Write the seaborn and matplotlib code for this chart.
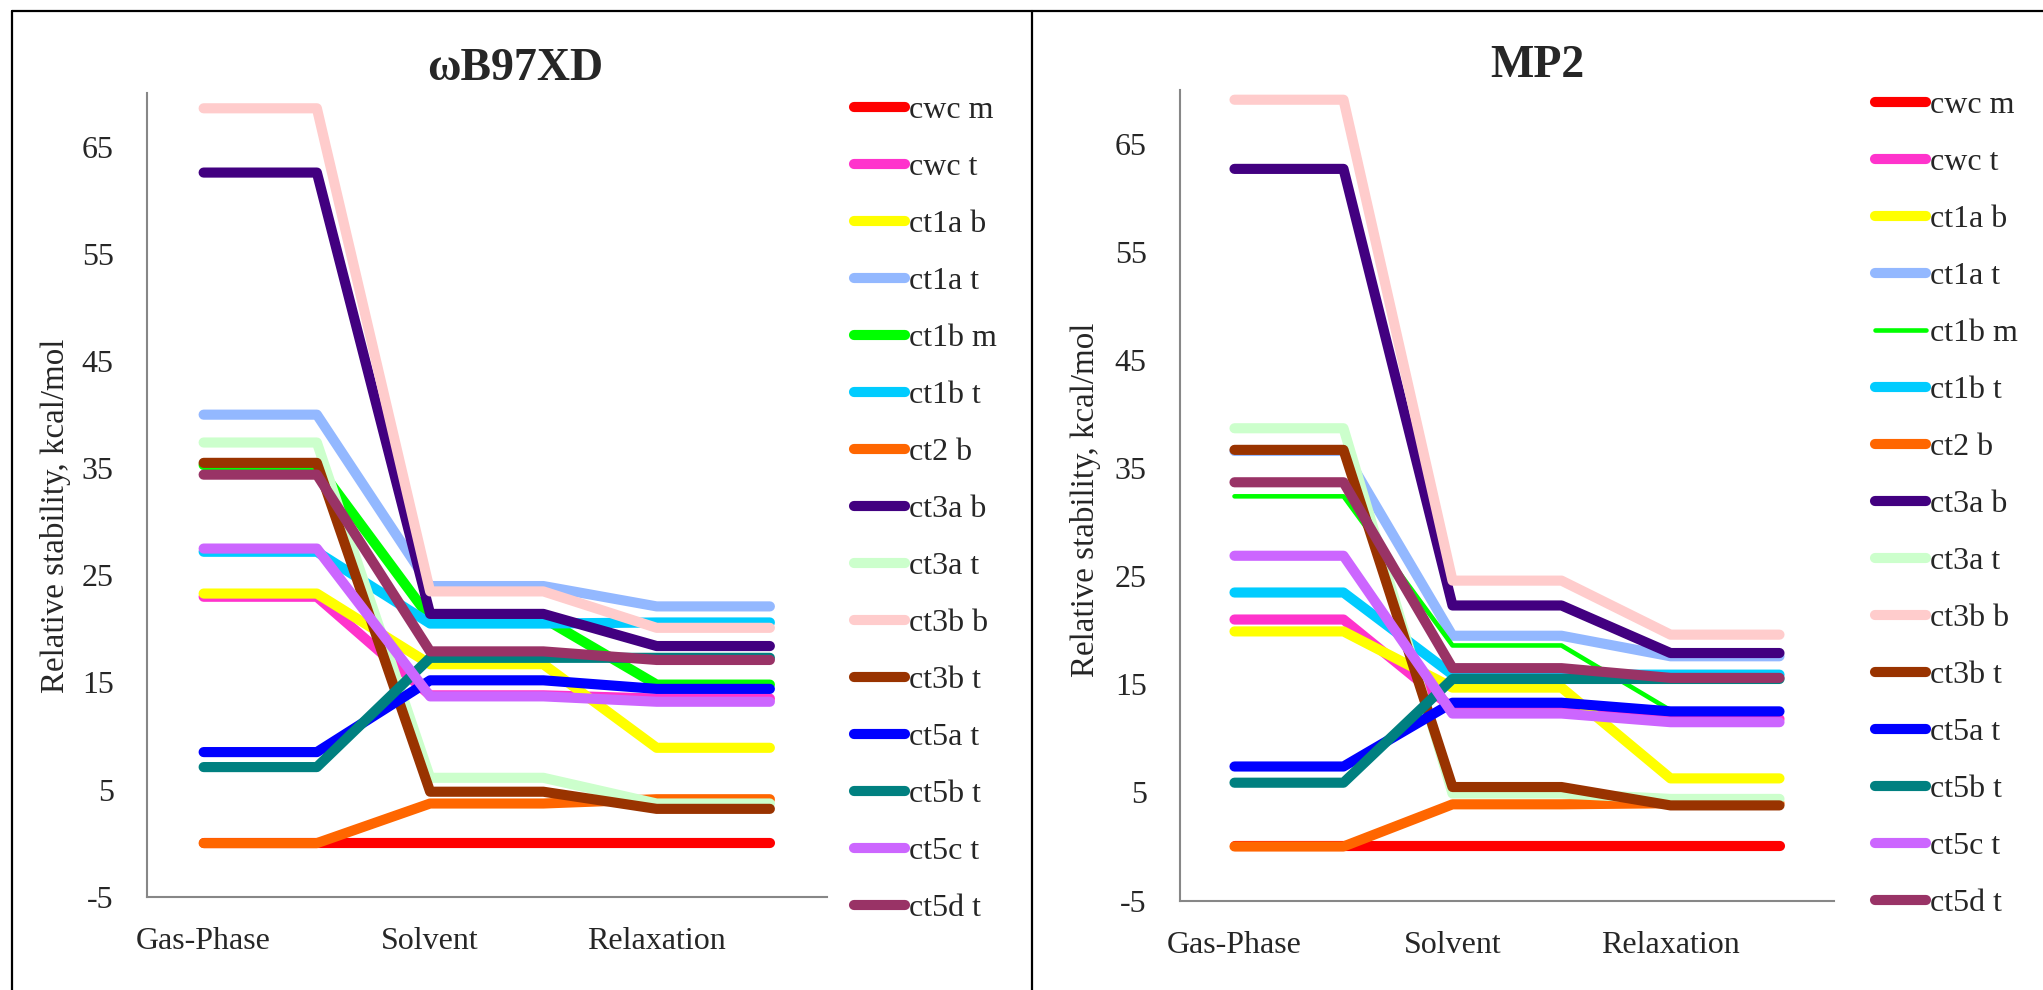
import numpy as np
import pandas as pd
import matplotlib
matplotlib.use("Agg")
import matplotlib.pyplot as plt
import seaborn as sns
from matplotlib.lines import Line2D

# ---------------- data ----------------
stages = ["Gas-Phase", "Solvent", "Relaxation"]
series = ["cwc m", "cwc t", "ct1a b", "ct1a t", "ct1b m", "ct1b t", "ct2 b",
          "ct3a b", "ct3a t", "ct3b b", "ct3b t", "ct5a t", "ct5b t", "ct5c t", "ct5d t"]
colors = ["#FF0000", "#FF33CC", "#FFFF00", "#93B8FF", "#00FF00", "#00CCFF", "#FF6600",
          "#420080", "#CCFFCC", "#FFCCCC", "#993300", "#0000FF", "#008080", "#CC66FF", "#993366"]

# omegaB97XD panel: [Gas-Phase, Solvent, Relaxation]
wb97xd_vals = [
    [0.0, 0.0, 0.0],
    [23.0, 13.8, 13.5],
    [23.3, 16.7, 8.9],
    [40.0, 24.0, 22.1],
    [35.3, 21.0, 14.8],
    [27.2, 20.5, 20.6],
    [0.0, 3.7, 4.1],
    [62.6, 21.4, 18.4],
    [37.4, 6.1, 3.7],
    [68.6, 23.5, 20.1],
    [35.5, 4.8, 3.2],
    [8.5, 15.2, 14.4],
    [7.1, 17.3, 17.3],
    [27.5, 13.7, 13.2],
    [34.4, 17.9, 17.1],
]
# MP2 panel
mp2_vals = [
    [0.0, 0.0, 0.0],
    [21.0, 12.8, 11.8],
    [19.9, 14.7, 6.3],
    [36.6, 19.5, 17.6],
    [32.4, 18.6, 12.6],
    [23.5, 15.9, 15.9],
    [0.0, 3.9, 4.0],
    [62.7, 22.3, 17.9],
    [38.7, 4.9, 4.4],
    [69.1, 24.6, 19.6],
    [36.7, 5.5, 3.8],
    [7.4, 13.3, 12.5],
    [5.9, 15.5, 15.5],
    [26.9, 12.3, 11.5],
    [33.7, 16.5, 15.6],
]
thin_mp2 = ["ct1b m"]

titles = ["\u03c9B97XD", "MP2"]
ylabel = "Relative stability, kcal/mol"

# ---------------- style ----------------
sns.set_style("white")
plt.rcParams["font.family"] = ["Liberation Serif", "DejaVu Serif"]
FS = 23

W, H = 2043, 990
fig = plt.figure(figsize=(W / 100, H / 100), dpi=100)


def px_ax(l, r, t, b):
    return fig.add_axes([l / W, 1 - b / H, (r - l) / W, (b - t) / H])


ax_specs = [
    dict(box=(147, 826.5, 93.3, 896.7), leg=(854, 88.0), title=(515, 80),
         lab=(-0.112, 0.474), tfs=33),
    dict(box=(1180, 1834, 90, 900.5), leg=(1875, 82.5), title=(1537, 77),
         lab=(-0.121, 0.494), tfs=33),
]
panels = [wb97xd_vals, mp2_vals]

for k, (spec, vals) in enumerate(zip(ax_specs, panels)):
    ax = px_ax(*spec["box"])
    for name, col, v in zip(series, colors, vals):
        n = len(v)
        xs = np.arange(2 * n)
        ys = np.repeat(v, 2)
        lw = 3.3 if (k == 1 and name in thin_mp2) else 7.3
        sns.lineplot(x=xs, y=ys, ax=ax, color=col, linewidth=lw, label=name,
                     sort=False, estimator=None, solid_capstyle="round",
                     solid_joinstyle="round")
    ax.set_xlim(-0.5, 2 * len(stages) - 0.5)
    ax.set_ylim(-5, 70)
    yt = np.arange(-5, 71, 5)
    ax.set_yticks(yt)
    ax.set_yticklabels([str(t) if t % 10 != 0 else "" for t in yt], fontsize=FS)
    ax.set_xticks(np.arange(0, 2 * len(stages), 2))
    ax.set_xticklabels(stages, fontsize=FS)
    ax.tick_params(axis="y", direction="out", length=10, width=1.5, color="#878787", pad=14)
    ax.tick_params(axis="x", length=0, pad=22)
    for s in ["top", "right"]:
        ax.spines[s].set_visible(False)
    for s in ["left", "bottom"]:
        ax.spines[s].set_color("#878787")
        ax.spines[s].set_linewidth(1.5)
    ax.set_xlabel("")
    ax.set_ylabel(ylabel, fontsize=23.8)
    ax.yaxis.set_label_coords(*spec["lab"])
    lx, ly = spec["leg"]
    ax.legend(loc="upper left", bbox_to_anchor=(lx / W, 1 - (ly + 8) / H),
              bbox_transform=fig.transFigure, frameon=False, borderpad=0,
              borderaxespad=0, handlelength=1.6, handletextpad=0.12,
              labelspacing=0.865, fontsize=FS)
    tx, ty = spec["title"]
    fig.text(tx / W, 1 - ty / H, titles[k], ha="center", va="baseline",
             fontsize=spec["tfs"], fontweight="bold")

# outer frame lines
frame_kw = dict(color="black", linewidth=1.6, transform=fig.transFigure)
fig.add_artist(Line2D([12 / W, 1.0], [1 - 11 / H, 1 - 11 / H], **frame_kw))
fig.add_artist(Line2D([12 / W, 12 / W], [0, 1 - 11 / H], **frame_kw))
fig.add_artist(Line2D([1032 / W, 1032 / W], [0, 1 - 11 / H], **frame_kw))

fig.savefig("out.png", dpi=100, facecolor="white")
